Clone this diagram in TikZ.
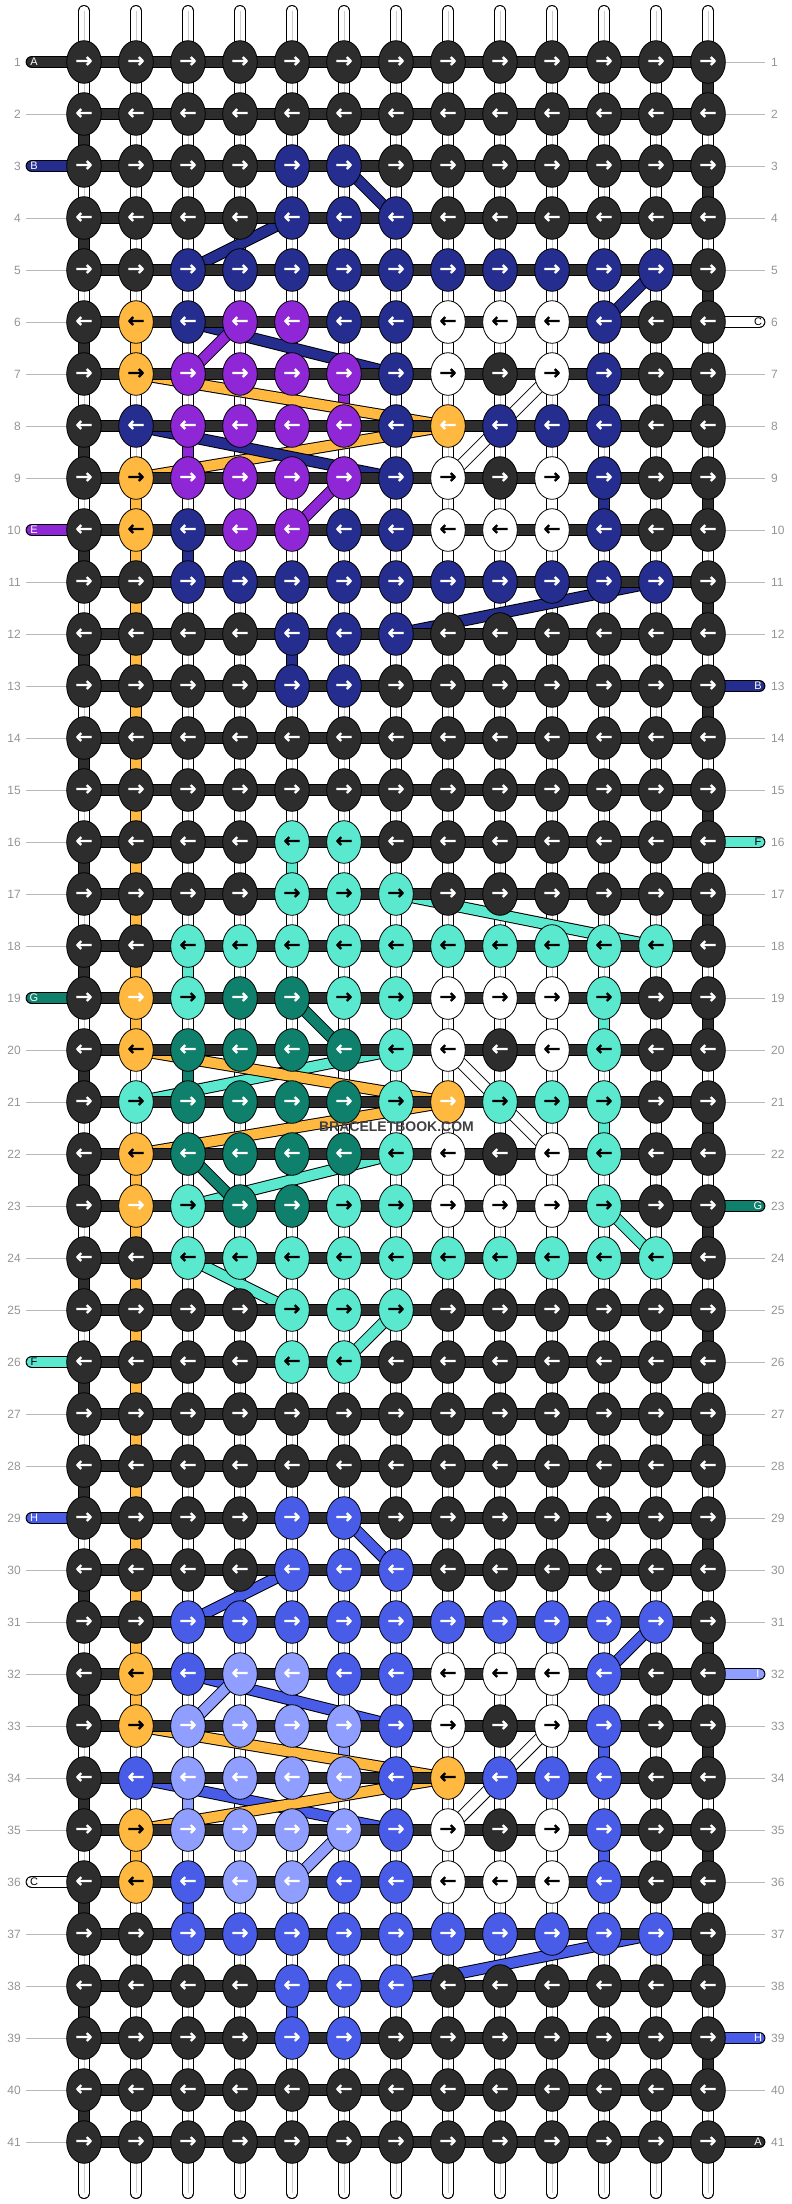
\documentclass[tikz,border=0pt]{standalone}
\usepackage{fontspec}
\setmainfont{Liberation Sans}
\newfontfamily\arrowfont[FakeBold=3]{DejaVu Sans}
\usetikzlibrary{shapes.geometric,backgrounds}
\definecolor{cK}{HTML}{2D2D2D}
\definecolor{cN}{HTML}{252E8F}
\definecolor{cP}{HTML}{8F27D6}
\definecolor{cY}{HTML}{FFB940}
\definecolor{cO}{HTML}{FFB940}
\definecolor{cT}{HTML}{5AE8CF}
\definecolor{cG}{HTML}{0E806C}
\definecolor{cB}{HTML}{485CE8}
\definecolor{cL}{HTML}{8F9EFF}
\definecolor{cW}{HTML}{FFFFFF}
\tikzset{
  knot/.style={ellipse, draw, line width=.8pt, inner sep=0pt, minimum width=34.6pt, minimum height=42.6pt, font=\arrowfont\fontsize{20}{20}\selectfont},
  knot K/.style={knot, fill=cK, text=white},
  knot N/.style={knot, fill=cN, text=white},
  knot P/.style={knot, fill=cP, text=white},
  knot G/.style={knot, fill=cG, text=white},
  knot B/.style={knot, fill=cB, text=white},
  knot L/.style={knot, fill=cL, text=white},
  knot O/.style={knot, fill=cO, text=white},
  knot Y/.style={knot, fill=cY, text=black},
  knot T/.style={knot, fill=cT, text=black},
  knot W/.style={knot, fill=cW, text=black},
  strand/.style={double=#1, double distance=10pt, line width=1pt},
  rowbar/.style={strand=#1, double distance=10.8pt},
  core/.style={draw=black!20, line width=1pt},
  rule/.style={draw=black!28, line width=1pt},
  rownum/.style={text=black!42, font=\fontsize{12}{12}\selectfont, inner sep=0pt},
  tag/.style={font=\fontsize{11}{11}\selectfont, inner sep=0pt, text=white},
  tag K/.style={tag},
  tag N/.style={tag},
  tag P/.style={tag},
  tag G/.style={tag},
  tag B/.style={tag},
  tag L/.style={tag},
  tag W/.style={tag, text=black},
  tag T/.style={tag, text=black}
}

\begin{document}
\begin{tikzpicture}[x=1pt, y=1pt]
    \useasboundingbox (0,0) rectangle (792,-2204);

    % Knots, one line per row
    \foreach \cells [count=\rw] in {
      {K,K,K,K,K,K,K,K,K,K,K,K,K},
      {K,K,K,K,K,K,K,K,K,K,K,K,K},
      {K,K,K,K,N,N,K,K,K,K,K,K,K},
      {K,K,K,K,N,N,N,K,K,K,K,K,K},
      {K,K,N,N,N,N,N,N,N,N,N,N,K},
      {K,Y,N,P,P,N,N,W,W,W,N,K,K},
      {K,Y,P,P,P,P,N,W,K,W,N,K,K},
      {K,N,P,P,P,P,N,O,N,N,N,K,K},
      {K,Y,P,P,P,P,N,W,K,W,N,K,K},
      {K,Y,N,P,P,N,N,W,W,W,N,K,K},
      {K,K,N,N,N,N,N,N,N,N,N,N,K},
      {K,K,K,K,N,N,N,K,K,K,K,K,K},
      {K,K,K,K,N,N,K,K,K,K,K,K,K},
      {K,K,K,K,K,K,K,K,K,K,K,K,K},
      {K,K,K,K,K,K,K,K,K,K,K,K,K},
      {K,K,K,K,T,T,K,K,K,K,K,K,K},
      {K,K,K,K,T,T,T,K,K,K,K,K,K},
      {K,K,T,T,T,T,T,T,T,T,T,T,K},
      {K,O,T,G,G,T,T,W,W,W,T,K,K},
      {K,Y,G,G,G,G,T,W,K,W,T,K,K},
      {K,T,G,G,G,G,T,O,T,T,T,K,K},
      {K,Y,G,G,G,G,T,W,K,W,T,K,K},
      {K,O,T,G,G,T,T,W,W,W,T,K,K},
      {K,K,T,T,T,T,T,T,T,T,T,T,K},
      {K,K,K,K,T,T,T,K,K,K,K,K,K},
      {K,K,K,K,T,T,K,K,K,K,K,K,K},
      {K,K,K,K,K,K,K,K,K,K,K,K,K},
      {K,K,K,K,K,K,K,K,K,K,K,K,K},
      {K,K,K,K,B,B,K,K,K,K,K,K,K},
      {K,K,K,K,B,B,B,K,K,K,K,K,K},
      {K,K,B,B,B,B,B,B,B,B,B,B,K},
      {K,Y,B,L,L,B,B,W,W,W,B,K,K},
      {K,Y,L,L,L,L,B,W,K,W,B,K,K},
      {K,B,L,L,L,L,B,Y,B,B,B,K,K},
      {K,Y,L,L,L,L,B,W,K,W,B,K,K},
      {K,Y,B,L,L,B,B,W,W,W,B,K,K},
      {K,K,B,B,B,B,B,B,B,B,B,B,K},
      {K,K,K,K,B,B,B,K,K,K,K,K,K},
      {K,K,K,K,B,B,K,K,K,K,K,K,K},
      {K,K,K,K,K,K,K,K,K,K,K,K,K},
      {K,K,K,K,K,K,K,K,K,K,K,K,K}} {
      \foreach \clr [count=\cl from 0] in \cells {
        \node [knot \clr] (k-\rw-\cl) at ({84+52*\cl},{-62-52*(\rw-1)}) {\raisebox{-1.2pt}{\ifodd\rw →\else ←\fi}};
      }
      % Row numbers and free ends of the side rules
      \node [rownum, anchor=east] (numl-\rw) at (21,{-62-52*(\rw-1)}) {\rw};
      \node [rownum, anchor=west] (numr-\rw) at (771,{-62-52*(\rw-1)}) {\rw};
      \coordinate (rulel-\rw) at (26,{-62-52*(\rw-1)});
      \coordinate (ruler-\rw) at (765,{-62-52*(\rw-1)});
      \coordinate (stubl-\rw) at (32,{-62-52*(\rw-1)});
      \coordinate (stubr-\rw) at (759,{-62-52*(\rw-1)});
    }
    \foreach \cl in {0,...,12} {
      \coordinate (top-\cl) at ({84+52*\cl},-11);
      \coordinate (bot-\cl) at ({84+52*\cl},-2193);
    }

    % Labels on the thread ends
    \foreach \rw/\clr/\txt in {1/K/A,3/N/B,10/P/E,19/G/G,26/T/F,29/B/H,36/W/C}
      \node [tag \clr] (tagl-\rw) at (34,{-62-52*(\rw-1)}) {\txt};
    \foreach \rw/\clr/\txt in {6/W/C,13/N/B,16/T/F,23/G/G,32/L/I,39/B/H,41/K/A}
      \node [tag \clr] (tagr-\rw) at (758,{-62-52*(\rw-1)}) {\txt};

    \node [font=\bfseries\fontsize{14}{14}\selectfont, text=black!75, inner sep=0pt] (mark) at (396.5,-1127) {BRACELETBOOK.COM};

    \begin{scope}[on background layer]
      % Vertical threads
      \foreach \cl in {0,...,12} {
        \draw [strand=white, line cap=round] (top-\cl) -- (k-1-\cl.center);
        \draw [core] (top-\cl) -- (k-1-\cl.center);
        \draw [strand=white, line cap=round] (k-41-\cl.center) -- (bot-\cl);
        \draw [core] (k-41-\cl.center) -- (bot-\cl);
        \foreach \rw [evaluate=\rw as \nx using int(\rw+1)] in {1,...,40} {
          \draw [strand=white] (k-\rw-\cl.center) -- (k-\nx-\cl.center);
          \draw [core] (k-\rw-\cl.center) -- (k-\nx-\cl.center);
        }
      }
      % Thread turning round at the edges
      \foreach \rw [evaluate=\rw as \nx using int(\rw+1)] in {2,4,...,40}
        \draw [strand=cK] (k-\rw-0.center) -- (k-\nx-0.center);
      \foreach \rw [evaluate=\rw as \nx using int(\rw+1)] in {1,3,...,39}
        \draw [strand=cK] (k-\rw-12.center) -- (k-\nx-12.center);
      % Orange thread running down the second column
      \foreach \rw [evaluate=\rw as \nx using int(\rw+1)] in {6,9,10,...,19,22,23,...,32,35}
        \draw [strand=cY] (k-\rw-1.center) -- (k-\nx-1.center);
      % Short coloured pieces
      \foreach \cl/\rw/\nx/\clr in {2/10/11/cN,2/8/9/cP,5/7/8/cP,10/7/8/cN,10/9/10/cN,4/12/13/cN,
          4/16/17/cT,2/18/19/cT,2/20/21/cG,10/19/20/cT,10/21/22/cT,
          4/38/39/cB,2/36/37/cB,2/34/35/cL,5/33/34/cL,10/33/34/cB,10/35/36/cB,
          7/6/7/white,9/9/10/white,7/10/11/white,7/18/19/white,9/19/20/white,7/22/23/white,9/23/24/white,
          7/32/33/white,9/35/36/white}
        \draw [strand=\clr] (k-\rw-\cl.center) -- (k-\nx-\cl.center);

      % Slanted pieces
      \foreach \ra/\ca/\rb/\cb/\clr in {3/5/4/6/cN,5/2/4/4/cN,6/10/5/11/cN,
          7/1/8/7/cY,9/1/8/7/cY,6/2/7/6/cN,8/1/9/6/cN,12/6/11/11/cN,
          7/2/6/3/cP,10/4/9/5/cP,9/7/7/9/white,
          17/6/18/11/cT,21/1/20/6/cT,23/2/22/6/cT,24/2/25/4/cT,26/5/25/6/cT,23/10/24/11/cT,
          19/4/20/5/cG,22/2/23/3/cG,20/1/21/7/cY,22/1/21/7/cY,20/7/22/9/white,
          29/5/30/6/cB,31/2/30/4/cB,32/10/31/11/cB,32/2/33/6/cB,34/1/35/6/cB,38/6/37/11/cB,
          33/2/32/3/cL,36/4/35/5/cL,33/1/34/7/cY,35/1/34/7/cY,35/7/33/9/white}
        \draw [strand=\clr] (k-\ra-\ca.center) -- (k-\rb-\cb.center);

      % Rows and side rules
      \foreach \rw in {1,...,41} {
        \draw [rule] (rulel-\rw) -- (k-\rw-0.center);
        \draw [rule] (k-\rw-12.center) -- (ruler-\rw);
        \draw [rowbar=cK] (k-\rw-0.center) -- (k-\rw-12.center);
      }
      % Thread ends
      \foreach \rw/\clr in {1/cK,3/cN,10/cP,19/cG,26/cT,29/cB,36/white}
        \draw [rowbar=\clr, line cap=round] (stubl-\rw) -- (k-\rw-0.center);
      \foreach \rw/\clr in {6/white,13/cN,16/cT,23/cG,32/cL,39/cB,41/cK}
        \draw [rowbar=\clr, line cap=round] (k-\rw-12.center) -- (stubr-\rw);
    \end{scope}
\end{tikzpicture}
\end{document}
